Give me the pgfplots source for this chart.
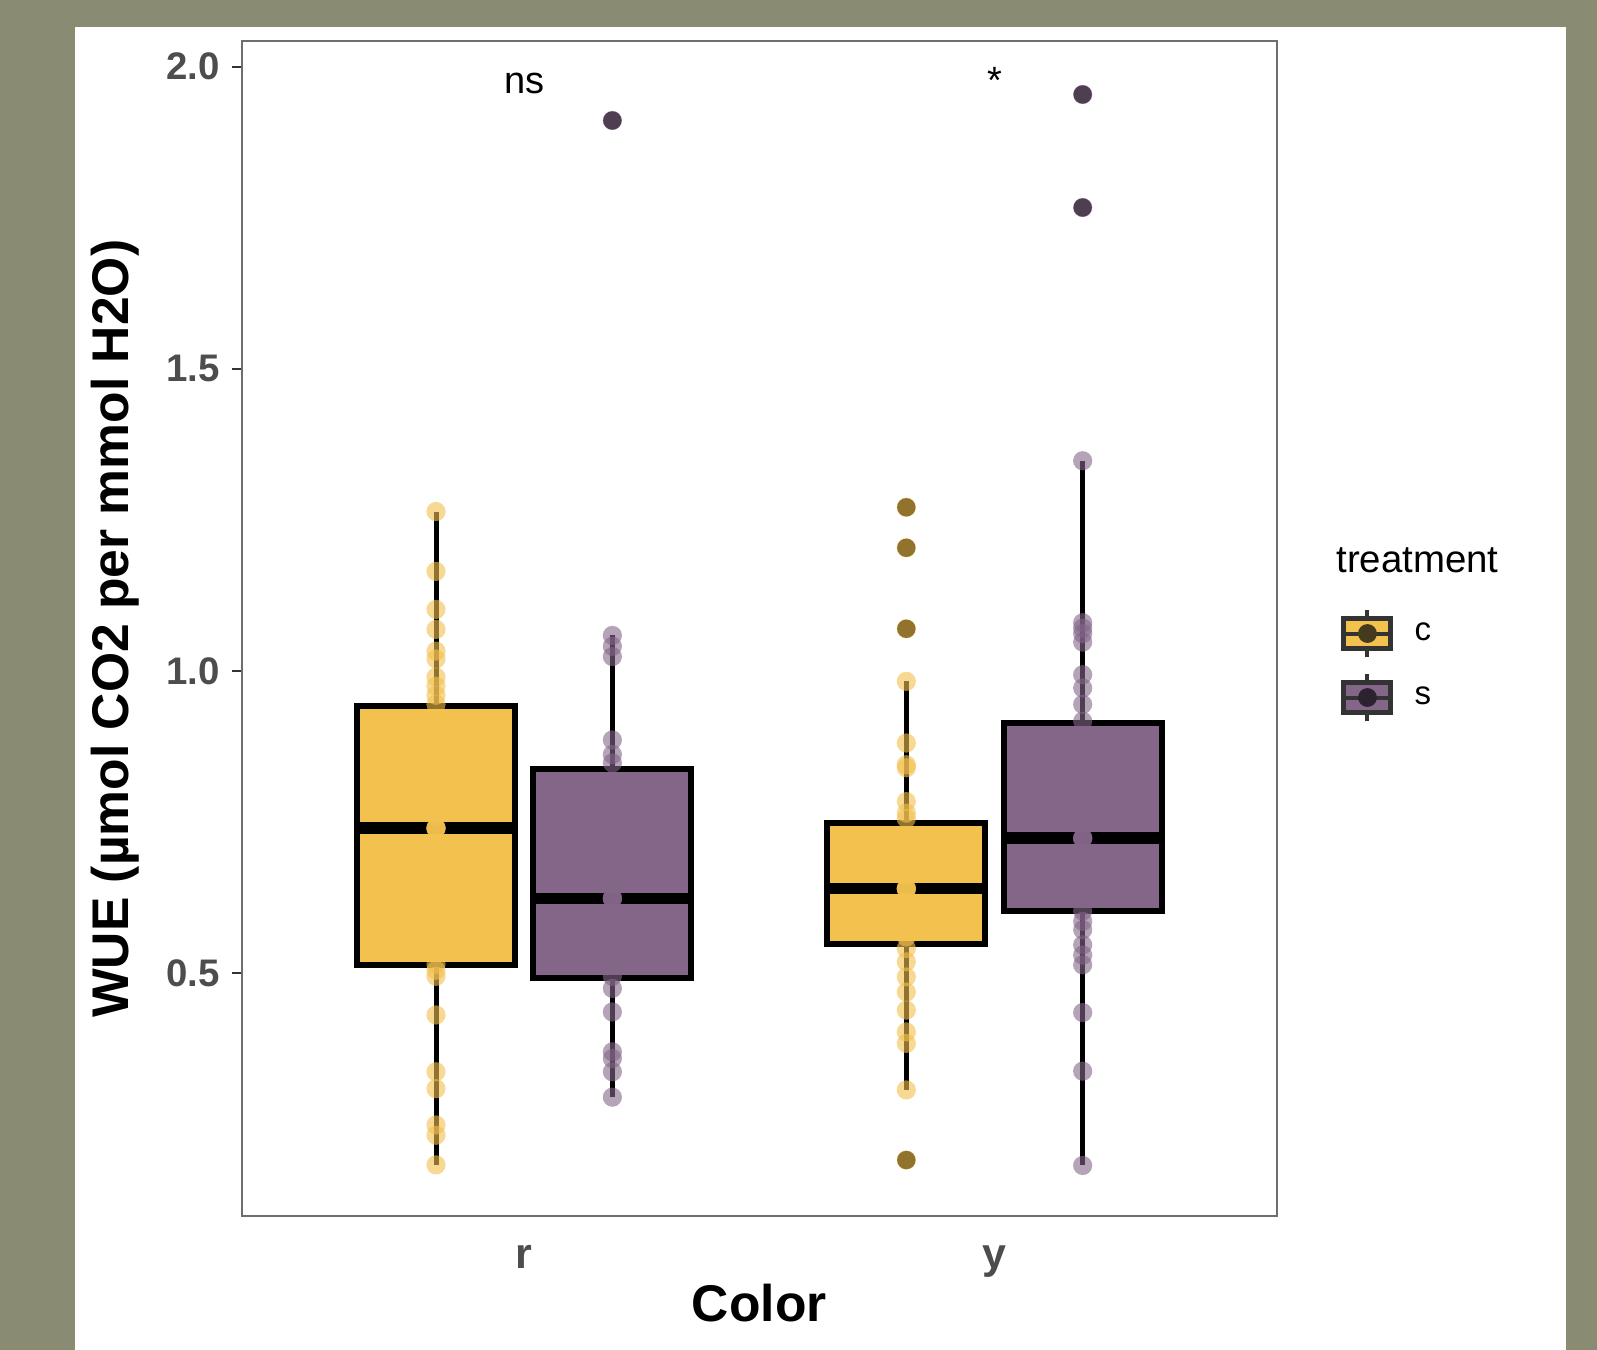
\documentclass[border=0pt]{standalone}
\usepackage{fontspec}
\setmainfont{Liberation Sans}
\usepackage{pgfplots}
\pgfplotsset{compat=1.18}
\usepgfplotslibrary{statistics}
\definecolor{bgolive}{RGB}{138,139,115}
\definecolor{cyel}{RGB}{242,193,78}
\definecolor{cpur}{RGB}{132,102,137}
\definecolor{tickgray}{RGB}{77,77,77}
\definecolor{framegray}{RGB}{110,110,110}
\definecolor{keygray}{RGB}{51,51,51}
\definecolor{keydarkc}{RGB}{70,58,30}
\definecolor{keydarks}{RGB}{45,34,48}
\pgfplotsset{
  bx/.style={draw=black, line width=3pt, line join=miter,
    boxplot/draw direction=y, boxplot/whisker extend=0,
    boxplot/every whisker/.style={line width=2.5pt},
    boxplot/every median/.style={line width=5.8pt}, forget plot},
  pts/.style={only marks, mark=*, mark size=4.8pt, forget plot,
    mark options={fill=#1, fill opacity=0.6, draw opacity=0, line width=0pt}},
  outl/.style={only marks, mark=*, mark size=4.6pt, forget plot,
    mark options={fill=black, draw opacity=0, line width=0pt}},
}
\begin{document}
\begin{tikzpicture}
\useasboundingbox (0,0) rectangle (798.5pt,675pt);
\fill[bgolive] (0,0) rectangle (798.5pt,675pt);
\fill[white] (37.5pt,0) rectangle (783pt,661.65pt);
\begin{axis}[
  at={(121pt,67pt)}, anchor=south west,
  scale only axis, width=517.35pt, height=587.25pt,
  xmin=0.4, xmax=2.6, ymin=0.0984, ymax=2.0417,
  axis line style={framegray, line width=1pt},
  xtick={1,2}, xticklabels={r,y},
  ytick={0.5,1,1.5,2}, yticklabels={0.5,1.0,1.5,2.0},
  tick pos=left, tick align=outside,
  major tick length=5pt,
  x tick style={draw=none},
  y tick style={keygray, line width=1pt},
  yticklabel style={font=\bfseries\fontsize{19.2}{20}\selectfont, text=tickgray, anchor=east, inner sep=0pt, xshift=-6pt},
  xticklabel style={font=\bfseries\fontsize{21.5}{22}\selectfont, text=tickgray, anchor=base, inner sep=0pt, yshift=-21.2pt},
  xlabel={Color}, ylabel={WUE (µmol CO2 per mmol H2O)},
  xlabel style={at={(axis description cs:0.5,-0.09)}, anchor=base, font=\bfseries\fontsize{25.8}{27}\selectfont},
  ylabel style={at={(axis description cs:-0.1094,0.5)}, anchor=base, font=\bfseries\fontsize{25.8}{27}\selectfont},
  clip=false,
  legend style={at={(1.0626,0.5179)}, anchor=north west, draw=none, fill=none,
    inner sep=0pt, outer sep=0pt, row sep=6.2pt, column sep=10.6pt,
    font=\fontsize{16.5}{18}\selectfont, nodes={inner sep=0pt}},
  legend cell align=left,
]
\addlegendimage{legend image code/.code={
  \draw[line width=2pt, keygray] (11.75pt,-11.9pt) -- (11.75pt,11.9pt);
  \draw[line width=2.5pt, draw=keygray, fill=cyel] (0pt,-7.5pt) rectangle (23.5pt,7.5pt);
  \draw[line width=2pt, keygray] (0pt,0pt) -- (23.5pt,0pt);
  \fill[keydarkc] (11.75pt,0pt) circle (4.5pt);
}}
\addlegendentry{c}
\addlegendimage{legend image code/.code={
  \draw[line width=2pt, keygray] (11.75pt,-11.9pt) -- (11.75pt,11.9pt);
  \draw[line width=2.5pt, draw=keygray, fill=cpur] (0pt,-7.5pt) rectangle (23.5pt,7.5pt);
  \draw[line width=2pt, keygray] (0pt,0pt) -- (23.5pt,0pt);
  \fill[keydarks] (11.75pt,0pt) circle (4.5pt);
}}
\addlegendentry{s}

% boxes
\addplot[bx, fill=cyel, boxplot prepared={draw position=0.8125, lower whisker=0.183, lower quartile=0.513, median=0.740, upper quartile=0.942, upper whisker=1.264, box extend=0.336}] coordinates {};
\addplot[bx, fill=cpur, boxplot prepared={draw position=1.1875, lower whisker=0.295, lower quartile=0.493, median=0.624, upper quartile=0.838, upper whisker=1.059, box extend=0.336}] coordinates {};
\addplot[bx, fill=cyel, boxplot prepared={draw position=1.8125, lower whisker=0.307, lower quartile=0.548, median=0.640, upper quartile=0.748, upper whisker=0.983, box extend=0.336}] coordinates {};
\addplot[bx, fill=cpur, boxplot prepared={draw position=2.1875, lower whisker=0.182, lower quartile=0.603, median=0.7235, upper quartile=0.914, upper whisker=1.348, box extend=0.336}] coordinates {};

% outliers
\addplot[outl] coordinates {(1.1875,1.911) (1.8125,1.271) (1.8125,1.204) (1.8125,1.070) (1.8125,0.191) (2.1875,1.954) (2.1875,1.767)};

% points r-c
\addplot[pts=cyel] coordinates {
(0.8125,1.264) (0.8125,1.165) (0.8125,1.102) (0.8125,1.069) (0.8125,1.033) (0.8125,1.020)
(0.8125,0.990) (0.8125,0.975) (0.8125,0.960) (0.8125,0.945) (0.8125,0.900) (0.8125,0.850)
(0.8125,0.800) (0.8125,0.760) (0.8125,0.741) (0.8125,0.740) (0.8125,0.740) (0.8125,0.739)
(0.8125,0.700) (0.8125,0.650)
(0.8125,0.600) (0.8125,0.550) (0.8125,0.515) (0.8125,0.505) (0.8125,0.495) (0.8125,0.431)
(0.8125,0.337) (0.8125,0.309) (0.8125,0.249) (0.8125,0.232) (0.8125,0.183)};
% points r-s
\addplot[pts=cpur] coordinates {
(1.1875,1.911) (1.1875,1.059) (1.1875,1.041) (1.1875,1.024) (1.1875,0.886) (1.1875,0.862)
(1.1875,0.848) (1.1875,0.800) (1.1875,0.750) (1.1875,0.700) (1.1875,0.660) (1.1875,0.625)
(1.1875,0.624) (1.1875,0.624) (1.1875,0.623)
(1.1875,0.580) (1.1875,0.550) (1.1875,0.520) (1.1875,0.495) (1.1875,0.475)
(1.1875,0.436) (1.1875,0.370) (1.1875,0.359) (1.1875,0.337) (1.1875,0.295)};
% points y-c
\addplot[pts=cyel] coordinates {
(1.8125,1.271) (1.8125,1.204) (1.8125,1.070) (1.8125,0.983) (1.8125,0.881) (1.8125,0.845)
(1.8125,0.840) (1.8125,0.784) (1.8125,0.765) (1.8125,0.756) (1.8125,0.720) (1.8125,0.690)
(1.8125,0.660) (1.8125,0.641) (1.8125,0.640) (1.8125,0.640) (1.8125,0.639)
(1.8125,0.620) (1.8125,0.590) (1.8125,0.560)
(1.8125,0.541) (1.8125,0.519) (1.8125,0.494) (1.8125,0.469) (1.8125,0.439) (1.8125,0.403)
(1.8125,0.384) (1.8125,0.307) (1.8125,0.191)};
% points y-s
\addplot[pts=cpur] coordinates {
(2.1875,1.954) (2.1875,1.767) (2.1875,1.348) (2.1875,1.080) (2.1875,1.071) (2.1875,1.062)
(2.1875,1.048) (2.1875,0.994) (2.1875,0.972) (2.1875,0.945) (2.1875,0.917) (2.1875,0.880)
(2.1875,0.830) (2.1875,0.780) (2.1875,0.750) (2.1875,0.7245) (2.1875,0.7235) (2.1875,0.7235)
(2.1875,0.7225) (2.1875,0.690)
(2.1875,0.660) (2.1875,0.630) (2.1875,0.603) (2.1875,0.586) (2.1875,0.572) (2.1875,0.547)
(2.1875,0.530) (2.1875,0.514) (2.1875,0.435) (2.1875,0.338) (2.1875,0.182)};

\node[anchor=base, font=\fontsize{19}{20}\selectfont] at (axis cs:1,1.955) {ns};
\node[anchor=base, font=\fontsize{19}{20}\selectfont] at (axis cs:2,1.955) {*};
\node[anchor=base west, inner sep=0pt, font=\fontsize{19.2}{20}\selectfont] at (rel axis cs:1.0573,0.5477) {treatment};
\end{axis}
\end{tikzpicture}
\end{document}
